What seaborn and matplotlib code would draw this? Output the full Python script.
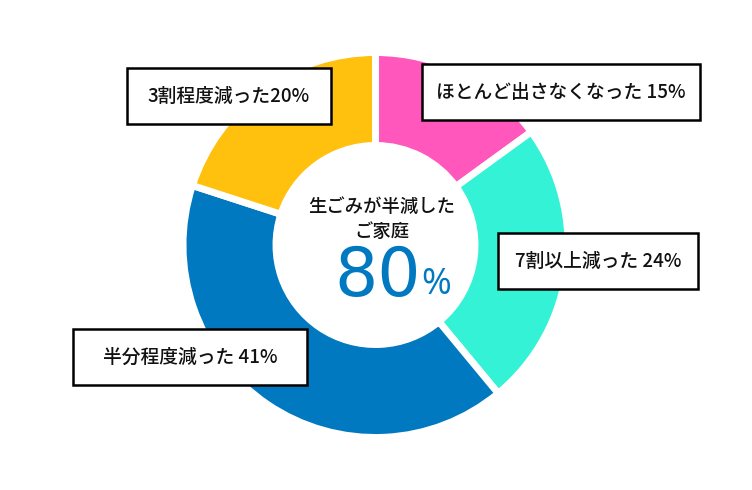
import matplotlib
matplotlib.use("Agg")
import matplotlib.pyplot as plt
import seaborn as sns

sns.set_theme(style="white")
plt.rcParams['font.family'] = ['Noto Sans CJK JP', 'DejaVu Sans']

categories = ["ほとんど出さなくなった", "7割以上減った", "半分程度減った", "3割程度減った"]
values = [15, 24, 41, 20]
label_texts = ["ほとんど出さなくなった 15%", "7割以上減った 24%", "半分程度減った 41%", "3割程度減った20%"]
colors = ["#FF57BC", "#33F2D6", "#0079C1", "#FFC10E"]
center_title = "生ごみが半減した\nご家庭"
center_value = "80"

W, H = 752, 490
fig = plt.figure(figsize=(W / 100, H / 100), dpi=100)
ax = fig.add_axes([0, 0, 1, 1])

cx, cy = 375.5, H - 245
ax.pie(values, colors=colors, startangle=90, counterclock=False,
       radius=192.5, center=(cx, cy), frame=True,
       wedgeprops=dict(width=93, edgecolor="white", linewidth=5))
ax.set_xlim(0, W)
ax.set_ylim(0, H)
ax.set_aspect("equal")
ax.axis("off")

# label boxes (positions in pixel coords, y from top)
box_pos = [(561, 92), (598, 261), (190, 357), (229, 96)]
box_w = [278, 200, 234, 204]
box_h = 56
for txt, (bx, by), bw in zip(label_texts, box_pos, box_w):
    ax.add_patch(plt.Rectangle((bx - bw / 2, H - by - box_h / 2), bw, box_h,
                               facecolor="white", edgecolor="black", linewidth=1.8, zorder=5))
    ax.text(bx, H - by, txt, ha="center", va="center", fontsize=13.5,
            color="#111111", fontweight="medium", zorder=6)

ax.text(cx + 6, H - 219, center_title, ha="center", va="center", fontsize=13.2,
        color="#111111", fontweight="medium", linespacing=1.5)
ax.text(378, H - 277, center_value, ha="center", va="center", fontsize=49,
        color="#0079C1", family=["DejaVu Sans"])
ax.text(436, H - 285, "%", ha="center", va="center", fontsize=26,
        color="#0079C1", family=["Open Sans", "DejaVu Sans"])

fig.savefig("out.png", dpi=100)
